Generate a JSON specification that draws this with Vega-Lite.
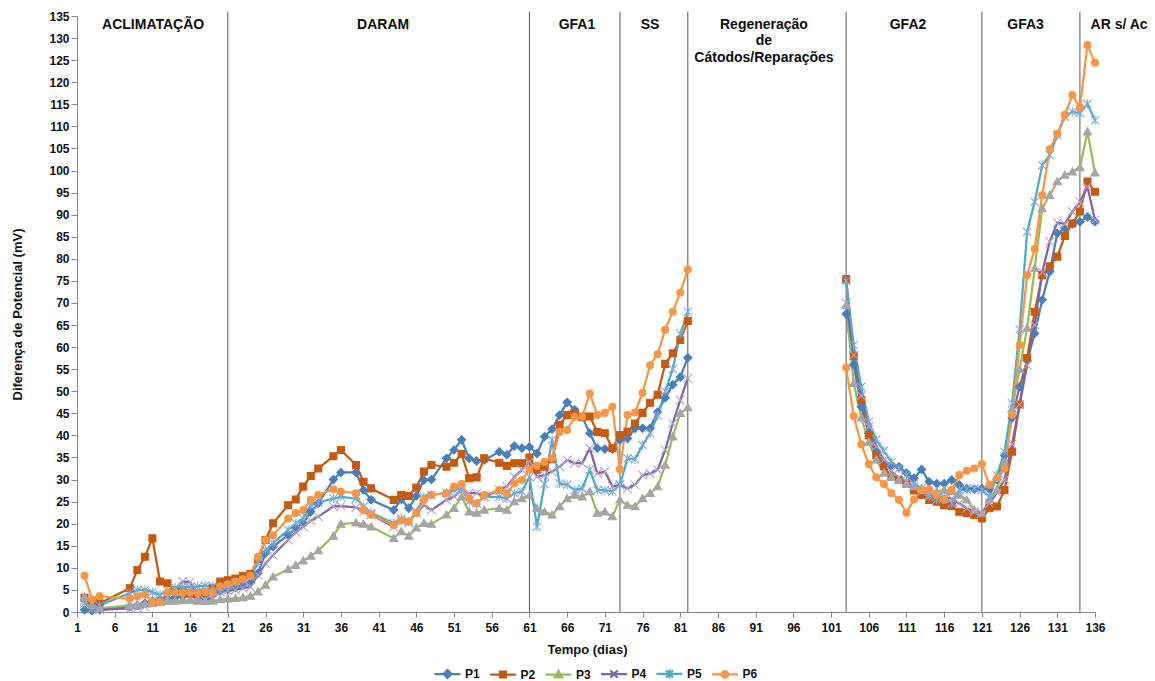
{
  "$schema": "https://vega.github.io/schema/vega-lite/v6.json",
  "width": 1018,
  "height": 596,
  "autosize": {"type": "none"},
  "padding": {"left": 77, "top": 16, "right": 60, "bottom": 69},
  "background": "white",
  "config": {
    "view": {"stroke": null},
    "font": "Liberation Sans",
    "axis": {
      "grid": false,
      "domainColor": "#868686",
      "tickColor": "#868686",
      "labelFont": "Liberation Sans",
      "labelFontWeight": "bold",
      "labelFontSize": 12,
      "labelColor": "#111111",
      "titleFont": "Liberation Sans",
      "titleFontWeight": "bold",
      "titleFontSize": 13,
      "titleColor": "#111111"
    }
  },
  "datasets": {
    "medicoes": [
      {"dia": 2, "bloco": 1, "P1": 0.5, "P2": 3.2, "P3": 3.4, "P4": 2.5, "P5": 2.0, "P6": 8.2},
      {"dia": 3, "bloco": 1, "P1": 0.3, "P2": 1.5, "P3": 1.5, "P4": 0.7, "P5": 0.8, "P6": 2.9},
      {"dia": 4, "bloco": 1, "P1": 0.5, "P2": 2.0, "P3": 0.8, "P4": 0.5, "P5": 1.5, "P6": 3.6},
      {"dia": 8, "bloco": 1, "P1": 1.2, "P2": 5.4, "P3": 1.5, "P4": 0.8, "P5": 4.3, "P6": 3.0},
      {"dia": 9, "bloco": 1, "P1": 1.5, "P2": 9.5, "P3": 1.7, "P4": 0.9, "P5": 5.0, "P6": 3.5},
      {"dia": 10, "bloco": 1, "P1": 2.0, "P2": 12.5, "P3": 1.8, "P4": 1.2, "P5": 5.0, "P6": 3.9},
      {"dia": 11, "bloco": 1, "P1": 2.5, "P2": 16.7, "P3": 2.0, "P4": 2.5, "P5": 4.5, "P6": 2.3},
      {"dia": 12, "bloco": 1, "P1": 2.8, "P2": 6.9, "P3": 2.2, "P4": 2.2, "P5": 3.9, "P6": 2.3},
      {"dia": 13, "bloco": 1, "P1": 3.0, "P2": 6.5, "P3": 2.4, "P4": 3.5, "P5": 4.8, "P6": 4.4},
      {"dia": 14, "bloco": 1, "P1": 3.3, "P2": 5.0, "P3": 2.5, "P4": 5.0, "P5": 5.5, "P6": 4.4},
      {"dia": 15, "bloco": 1, "P1": 3.5, "P2": 4.5, "P3": 2.6, "P4": 6.9, "P5": 5.7, "P6": 4.3},
      {"dia": 16, "bloco": 1, "P1": 3.8, "P2": 4.2, "P3": 2.7, "P4": 6.8, "P5": 5.6, "P6": 4.4},
      {"dia": 17, "bloco": 1, "P1": 3.2, "P2": 4.3, "P3": 2.5, "P4": 3.5, "P5": 5.8, "P6": 4.3},
      {"dia": 18, "bloco": 1, "P1": 3.3, "P2": 4.4, "P3": 2.4, "P4": 2.7, "P5": 6.0, "P6": 4.5},
      {"dia": 19, "bloco": 1, "P1": 4.2, "P2": 5.5, "P3": 2.5, "P4": 3.2, "P5": 5.8, "P6": 4.5},
      {"dia": 20, "bloco": 1, "P1": 4.8, "P2": 6.9, "P3": 2.8, "P4": 4.5, "P5": 5.5, "P6": 5.8},
      {"dia": 21, "bloco": 1, "P1": 5.2, "P2": 7.2, "P3": 3.0, "P4": 4.8, "P5": 6.0, "P6": 6.3},
      {"dia": 22, "bloco": 1, "P1": 5.6, "P2": 7.6, "P3": 3.1, "P4": 5.0, "P5": 6.6, "P6": 6.9},
      {"dia": 23, "bloco": 1, "P1": 6.1, "P2": 8.2, "P3": 3.3, "P4": 5.4, "P5": 7.2, "P6": 7.4},
      {"dia": 24, "bloco": 1, "P1": 6.6, "P2": 8.6, "P3": 3.6, "P4": 5.7, "P5": 8.0, "P6": 8.2},
      {"dia": 25, "bloco": 1, "P1": 8.8, "P2": 12.0, "P3": 4.6, "P4": 8.4, "P5": 11.1, "P6": 12.5},
      {"dia": 26, "bloco": 1, "P1": 13.3, "P2": 16.3, "P3": 6.1, "P4": 11.0, "P5": 14.0, "P6": 16.3},
      {"dia": 27, "bloco": 1, "P1": 14.8, "P2": 20.1, "P3": 8.0, "P4": 12.9, "P5": 15.6, "P6": 17.4},
      {"dia": 29, "bloco": 1, "P1": 17.4, "P2": 24.2, "P3": 9.7, "P4": 16.3, "P5": 18.6, "P6": 21.2},
      {"dia": 30, "bloco": 1, "P1": 19.0, "P2": 25.5, "P3": 10.6, "P4": 18.0, "P5": 20.1, "P6": 22.4},
      {"dia": 31, "bloco": 1, "P1": 20.1, "P2": 28.4, "P3": 11.6, "P4": 19.3, "P5": 21.2, "P6": 23.1},
      {"dia": 32, "bloco": 1, "P1": 22.7, "P2": 30.8, "P3": 12.7, "P4": 20.7, "P5": 24.2, "P6": 25.4},
      {"dia": 33, "bloco": 1, "P1": 24.6, "P2": 32.5, "P3": 13.9, "P4": 21.6, "P5": 24.8, "P6": 26.5},
      {"dia": 35, "bloco": 1, "P1": 30.0, "P2": 35.3, "P3": 17.2, "P4": 23.9, "P5": 25.7, "P6": 27.8},
      {"dia": 36, "bloco": 1, "P1": 31.6, "P2": 36.7, "P3": 19.9, "P4": 24.0, "P5": 26.1, "P6": 27.3},
      {"dia": 38, "bloco": 1, "P1": 31.6, "P2": 33.3, "P3": 20.2, "P4": 23.7, "P5": 25.7, "P6": 26.9},
      {"dia": 39, "bloco": 1, "P1": 27.6, "P2": 29.5, "P3": 19.9, "P4": 22.7, "P5": 23.9, "P6": 23.1},
      {"dia": 40, "bloco": 1, "P1": 25.4, "P2": 28.0, "P3": 19.3, "P4": 22.0, "P5": 22.5, "P6": 22.0},
      {"dia": 43, "bloco": 1, "P1": 23.1, "P2": 25.4, "P3": 16.7, "P4": 19.3, "P5": 20.1, "P6": 19.7},
      {"dia": 44, "bloco": 1, "P1": 25.5, "P2": 26.5, "P3": 18.2, "P4": 20.7, "P5": 21.2, "P6": 20.7},
      {"dia": 45, "bloco": 1, "P1": 23.5, "P2": 26.3, "P3": 17.2, "P4": 20.2, "P5": 20.5, "P6": 20.5},
      {"dia": 46, "bloco": 1, "P1": 26.3, "P2": 28.2, "P3": 19.1, "P4": 22.4, "P5": 22.7, "P6": 22.4},
      {"dia": 47, "bloco": 1, "P1": 29.9, "P2": 31.8, "P3": 20.1, "P4": 24.2, "P5": 26.1, "P6": 25.4},
      {"dia": 48, "bloco": 1, "P1": 30.0, "P2": 33.3, "P3": 19.9, "P4": 23.1, "P5": 26.5, "P6": 26.5},
      {"dia": 50, "bloco": 1, "P1": 34.8, "P2": 32.9, "P3": 22.0, "P4": 25.4, "P5": 27.0, "P6": 26.9},
      {"dia": 51, "bloco": 1, "P1": 36.7, "P2": 33.8, "P3": 23.5, "P4": 26.1, "P5": 27.6, "P6": 28.4},
      {"dia": 52, "bloco": 1, "P1": 39.0, "P2": 35.8, "P3": 26.1, "P4": 27.6, "P5": 28.0, "P6": 29.0},
      {"dia": 53, "bloco": 1, "P1": 34.8, "P2": 30.3, "P3": 22.7, "P4": 26.9, "P5": 25.0, "P6": 25.7},
      {"dia": 54, "bloco": 1, "P1": 34.2, "P2": 30.5, "P3": 22.4, "P4": 26.9, "P5": 24.6, "P6": 24.6},
      {"dia": 55, "bloco": 1, "P1": 34.4, "P2": 34.8, "P3": 23.1, "P4": 26.1, "P5": 26.1, "P6": 26.5},
      {"dia": 57, "bloco": 1, "P1": 36.3, "P2": 33.8, "P3": 23.5, "P4": 27.6, "P5": 26.1, "P6": 27.6},
      {"dia": 58, "bloco": 1, "P1": 35.6, "P2": 33.1, "P3": 23.1, "P4": 28.4, "P5": 25.7, "P6": 26.9},
      {"dia": 59, "bloco": 1, "P1": 37.6, "P2": 33.7, "P3": 25.0, "P4": 30.6, "P5": 26.9, "P6": 29.1},
      {"dia": 60, "bloco": 1, "P1": 37.1, "P2": 33.7, "P3": 25.7, "P4": 32.2, "P5": 27.3, "P6": 29.9},
      {"dia": 61, "bloco": 1, "P1": 37.4, "P2": 35.0, "P3": 26.5, "P4": 34.0, "P5": 30.6, "P6": 32.3},
      {"dia": 62, "bloco": 1, "P1": 35.9, "P2": 32.2, "P3": 23.5, "P4": 30.6, "P5": 19.3, "P6": 33.1},
      {"dia": 63, "bloco": 1, "P1": 39.7, "P2": 32.9, "P3": 22.7, "P4": 31.0, "P5": 29.0, "P6": 34.0},
      {"dia": 64, "bloco": 1, "P1": 41.4, "P2": 34.6, "P3": 22.0, "P4": 31.8, "P5": 39.0, "P6": 34.8},
      {"dia": 65, "bloco": 1, "P1": 44.6, "P2": 42.4, "P3": 23.9, "P4": 32.9, "P5": 29.1, "P6": 40.8},
      {"dia": 66, "bloco": 1, "P1": 47.5, "P2": 44.6, "P3": 25.7, "P4": 34.4, "P5": 28.8, "P6": 41.2},
      {"dia": 67, "bloco": 1, "P1": 45.8, "P2": 45.0, "P3": 26.5, "P4": 33.7, "P5": 27.6, "P6": 44.2},
      {"dia": 68, "bloco": 1, "P1": 44.2, "P2": 44.2, "P3": 26.1, "P4": 33.7, "P5": 28.0, "P6": 44.2},
      {"dia": 69, "bloco": 1, "P1": 40.5, "P2": 44.3, "P3": 27.3, "P4": 37.1, "P5": 32.2, "P6": 49.5},
      {"dia": 70, "bloco": 1, "P1": 37.1, "P2": 40.8, "P3": 22.4, "P4": 31.4, "P5": 27.6, "P6": 44.6},
      {"dia": 71, "bloco": 1, "P1": 36.9, "P2": 40.5, "P3": 22.7, "P4": 31.8, "P5": 27.6, "P6": 45.1},
      {"dia": 72, "bloco": 1, "P1": 36.9, "P2": 37.1, "P3": 21.6, "P4": 28.4, "P5": 27.3, "P6": 46.5},
      {"dia": 73, "bloco": 1, "P1": 39.0, "P2": 40.1, "P3": 25.4, "P4": 28.8, "P5": 28.8, "P6": 32.3},
      {"dia": 74, "bloco": 1, "P1": 39.3, "P2": 40.8, "P3": 24.2, "P4": 28.0, "P5": 34.8, "P6": 44.6},
      {"dia": 75, "bloco": 1, "P1": 41.6, "P2": 42.7, "P3": 23.9, "P4": 28.8, "P5": 34.6, "P6": 45.2},
      {"dia": 76, "bloco": 1, "P1": 41.6, "P2": 45.1, "P3": 25.7, "P4": 31.0, "P5": 37.8, "P6": 49.6},
      {"dia": 77, "bloco": 1, "P1": 41.6, "P2": 47.4, "P3": 26.9, "P4": 31.4, "P5": 40.5, "P6": 55.9},
      {"dia": 78, "bloco": 1, "P1": 45.3, "P2": 49.2, "P3": 28.4, "P4": 32.2, "P5": 44.5, "P6": 58.4},
      {"dia": 79, "bloco": 1, "P1": 48.5, "P2": 56.2, "P3": 33.3, "P4": 36.7, "P5": 50.0, "P6": 63.9},
      {"dia": 80, "bloco": 1, "P1": 51.5, "P2": 58.6, "P3": 39.7, "P4": 42.7, "P5": 55.0, "P6": 68.0},
      {"dia": 81, "bloco": 1, "P1": 53.2, "P2": 61.6, "P3": 45.0, "P4": 48.0, "P5": 63.0, "P6": 72.3},
      {"dia": 82, "bloco": 1, "P1": 57.6, "P2": 65.9, "P3": 46.3, "P4": 52.9, "P5": 68.0, "P6": 77.6},
      {"dia": 103, "bloco": 2, "P1": 67.5, "P2": 75.4, "P3": 69.5, "P4": 70.0, "P5": 75.0, "P6": 55.4},
      {"dia": 104, "bloco": 2, "P1": 56.0, "P2": 58.0, "P3": 51.8, "P4": 58.2, "P5": 60.5, "P6": 44.4},
      {"dia": 105, "bloco": 2, "P1": 46.5, "P2": 48.0, "P3": 44.0, "P4": 49.0, "P5": 51.0, "P6": 38.0},
      {"dia": 106, "bloco": 2, "P1": 40.5, "P2": 40.0, "P3": 38.5, "P4": 42.0, "P5": 43.1, "P6": 33.5},
      {"dia": 107, "bloco": 2, "P1": 36.5, "P2": 35.5, "P3": 34.5, "P4": 37.5, "P5": 39.0, "P6": 30.5},
      {"dia": 108, "bloco": 2, "P1": 33.8, "P2": 33.0, "P3": 31.5, "P4": 34.5, "P5": 36.5, "P6": 29.0},
      {"dia": 109, "bloco": 2, "P1": 33.3, "P2": 30.6, "P3": 30.5, "P4": 31.8, "P5": 34.0, "P6": 26.9},
      {"dia": 110, "bloco": 2, "P1": 32.9, "P2": 29.9, "P3": 29.8, "P4": 30.5, "P5": 32.5, "P6": 25.4},
      {"dia": 111, "bloco": 2, "P1": 31.5, "P2": 29.1, "P3": 29.0, "P4": 29.5, "P5": 31.0, "P6": 22.5},
      {"dia": 112, "bloco": 2, "P1": 30.3, "P2": 27.5, "P3": 28.4, "P4": 28.4, "P5": 29.1, "P6": 25.5},
      {"dia": 113, "bloco": 2, "P1": 32.3, "P2": 26.5, "P3": 28.0, "P4": 27.3, "P5": 28.0, "P6": 27.6},
      {"dia": 114, "bloco": 2, "P1": 29.5, "P2": 25.4, "P3": 27.5, "P4": 26.5, "P5": 26.1, "P6": 27.8},
      {"dia": 115, "bloco": 2, "P1": 29.1, "P2": 25.0, "P3": 27.3, "P4": 26.1, "P5": 25.4, "P6": 26.5},
      {"dia": 116, "bloco": 2, "P1": 29.1, "P2": 24.2, "P3": 27.6, "P4": 25.9, "P5": 26.1, "P6": 25.4},
      {"dia": 117, "bloco": 2, "P1": 29.9, "P2": 24.0, "P3": 27.3, "P4": 25.7, "P5": 24.6, "P6": 27.6},
      {"dia": 118, "bloco": 2, "P1": 28.8, "P2": 22.7, "P3": 26.5, "P4": 24.6, "P5": 27.6, "P6": 31.0},
      {"dia": 119, "bloco": 2, "P1": 28.0, "P2": 22.4, "P3": 25.4, "P4": 23.5, "P5": 27.8, "P6": 32.0},
      {"dia": 120, "bloco": 2, "P1": 27.8, "P2": 22.0, "P3": 23.1, "P4": 22.7, "P5": 28.0, "P6": 32.5},
      {"dia": 121, "bloco": 2, "P1": 28.0, "P2": 21.2, "P3": 22.3, "P4": 22.4, "P5": 27.6, "P6": 33.5},
      {"dia": 122, "bloco": 2, "P1": 27.8, "P2": 23.5, "P3": 25.4, "P4": 24.6, "P5": 26.1, "P6": 28.8},
      {"dia": 123, "bloco": 2, "P1": 30.0, "P2": 23.9, "P3": 27.6, "P4": 27.0, "P5": 31.0, "P6": 30.3},
      {"dia": 124, "bloco": 2, "P1": 35.5, "P2": 27.6, "P3": 34.0, "P4": 30.0, "P5": 36.3, "P6": 32.5},
      {"dia": 125, "bloco": 2, "P1": 44.0, "P2": 36.3, "P3": 46.0, "P4": 38.0, "P5": 47.3, "P6": 44.6},
      {"dia": 126, "bloco": 2, "P1": 51.0, "P2": 47.0, "P3": 55.0, "P4": 47.0, "P5": 64.0, "P6": 60.5},
      {"dia": 127, "bloco": 2, "P1": 57.0, "P2": 57.5, "P3": 64.3, "P4": 55.9, "P5": 86.1, "P6": 76.3},
      {"dia": 128, "bloco": 2, "P1": 63.1, "P2": 68.0, "P3": 77.8, "P4": 65.0, "P5": 92.9, "P6": 82.2},
      {"dia": 129, "bloco": 2, "P1": 70.7, "P2": 76.3, "P3": 91.4, "P4": 77.0, "P5": 101.2, "P6": 94.4},
      {"dia": 130, "bloco": 2, "P1": 77.1, "P2": 78.3, "P3": 94.4, "P4": 83.9, "P5": 103.5, "P6": 104.8},
      {"dia": 131, "bloco": 2, "P1": 85.8, "P2": 80.5, "P3": 97.5, "P4": 88.2, "P5": 108.0, "P6": 108.3},
      {"dia": 132, "bloco": 2, "P1": 86.9, "P2": 85.2, "P3": 99.0, "P4": 87.9, "P5": 112.2, "P6": 112.6},
      {"dia": 133, "bloco": 2, "P1": 87.9, "P2": 88.0, "P3": 99.7, "P4": 90.7, "P5": 113.3, "P6": 117.1},
      {"dia": 134, "bloco": 2, "P1": 88.4, "P2": 90.7, "P3": 100.7, "P4": 92.9, "P5": 113.0, "P6": 114.3},
      {"dia": 135, "bloco": 2, "P1": 89.5, "P2": 97.5, "P3": 108.8, "P4": 96.3, "P5": 115.1, "P6": 128.4},
      {"dia": 136, "bloco": 2, "P1": 88.4, "P2": 95.2, "P3": 99.5, "P4": 88.8, "P5": 111.4, "P6": 124.4}
    ],
    "limites": [
      {"dia": 21}, {"dia": 61}, {"dia": 73}, {"dia": 82}, {"dia": 103}, {"dia": 121}, {"dia": 134}
    ],
    "fases": [
      {"fase": "ACLIMATAÇÃO", "meio": 11.1},
      {"fase": "DARAM", "meio": 41.6},
      {"fase": "GFA1", "meio": 67.3},
      {"fase": "SS", "meio": 77},
      {"fase": "Regeneração\nde\nCátodos/Reparações", "meio": 92.1},
      {"fase": "GFA2", "meio": 111.2},
      {"fase": "GFA3", "meio": 126.8},
      {"fase": "AR s/ Ac", "meio": 139.2}
    ]
  },
  "layer": [
    {
      "data": {"name": "limites"},
      "mark": {"type": "rule", "color": "#595959", "strokeWidth": 1},
      "encoding": {
        "x": {"field": "dia", "type": "quantitative", "scale": {"domain": [1, 136], "nice": false}},
        "y": {"datum": 0, "type": "quantitative", "scale": {"domain": [0, 135], "nice": false}},
        "y2": {"datum": 136}
      }
    },
    {
      "data": {"name": "medicoes"},
      "transform": [{"fold": ["P1", "P2", "P3", "P4", "P5", "P6"], "as": ["serie", "valor"]}],
      "mark": {"type": "line", "strokeWidth": 2.25, "strokeJoin": "round"},
      "encoding": {
        "x": {
          "field": "dia", "type": "quantitative",
          "scale": {"domain": [1, 136], "nice": false, "zero": false},
          "axis": {
            "title": "Tempo (dias)",
            "values": [1, 6, 11, 16, 21, 26, 31, 36, 41, 46, 51, 56, 61, 66, 71, 76, 81, 86, 91, 96, 101, 106, 111, 116, 121, 126, 131, 136],
            "tickCount": 40,
            "labelOverlap": false, "labelFlush": false, "labelBound": false,
            "tickSize": 5, "labelPadding": 5, "titlePadding": 10, "titleX": 510
          }
        },
        "y": {
          "field": "valor", "type": "quantitative",
          "scale": {"domain": [0, 135], "nice": false},
          "axis": {
            "title": "Diferença de Potencial (mV)",
            "values": [0, 5, 10, 15, 20, 25, 30, 35, 40, 45, 50, 55, 60, 65, 70, 75, 80, 85, 90, 95, 100, 105, 110, 115, 120, 125, 130, 135],
            "tickCount": 40,
            "labelOverlap": false, "labelFlush": false, "labelBound": false,
            "tickSize": 6, "labelPadding": 2,
            "titleX": -60, "titleY": 298, "titleAngle": -90, "titleAlign": "center", "titleBaseline": "middle"
          }
        },
        "color": {
          "field": "serie", "type": "nominal",
          "scale": {"domain": ["P1", "P2", "P3", "P4", "P5", "P6"], "range": ["#4a7ebb", "#c55a11", "#9bbb59", "#8064a2", "#4bacc6", "#f79646"]},
          "legend": {
            "title": null,
            "orient": "none",
            "direction": "horizontal",
            "legendX": 356,
            "legendY": 643,
            "symbolSize": 676,
            "symbolStrokeWidth": 2.25,
            "columnPadding": 5.5,
            "labelOffset": 3,
            "labelFont": "Liberation Sans",
            "labelFontWeight": "bold",
            "labelFontSize": 12,
            "labelColor": "#111111",
            "encode": {
              "symbols": {
                "update": {
                  "shape": {"signal": "datum.value === 'P1' ? 'M-1,0H1M0,-0.3L0.3,0L0,0.3L-0.3,0Z' : datum.value === 'P2' ? 'M-1,0H1M-0.23,-0.23H0.23V0.23H-0.23Z' : datum.value === 'P3' ? 'M-1,0H1M0,-0.28L0.28,0.22H-0.28Z' : datum.value === 'P4' ? 'M-1,0H1M-0.28,-0.28L0.28,0.28M-0.28,0.28L0.28,-0.28' : datum.value === 'P5' ? 'M-1,0H1M-0.28,-0.28L0.28,0.28M-0.28,0.28L0.28,-0.28M0,-0.33V0.33' : 'M-1,0H1M0.25,0A0.25,0.25 0 1 1 -0.25,0A0.25,0.25 0 1 1 0.25,0Z'"},
                  "fill": {"signal": "datum.value === 'P1' ? '#4a7ebb' : datum.value === 'P2' ? '#c55a11' : datum.value === 'P3' ? '#a5a5a5' : datum.value === 'P4' ? '#b3a2c7' : datum.value === 'P5' ? '#7fa8d8' : '#f79646'"},
                  "size": {"value": 676},
                  "opacity": {"value": 1}
                }
              }
            }
          }
        },
        "detail": {"field": "bloco", "type": "nominal"}
      }
    },
    {
      "data": {"name": "medicoes"},
      "transform": [{"fold": ["P1", "P2", "P3", "P4", "P5", "P6"], "as": ["serie", "valor"]}],
      "mark": {"type": "point", "filled": true, "opacity": 1, "strokeWidth": 1.1, "size": 40},
      "encoding": {
        "x": {"field": "dia", "type": "quantitative"},
        "y": {"field": "valor", "type": "quantitative"},
        "fill": {
          "field": "serie", "type": "nominal",
          "scale": {"range": ["#4a7ebb", "#c55a11", "#a5a5a5", "#b3a2c7", "#7fa8d8", "#f79646"]},
          "legend": null
        },
        "stroke": {
          "field": "serie", "type": "nominal",
          "scale": {"range": ["#4a7ebb", "#c55a11", "#a5a5a5", "#b3a2c7", "#7fa8d8", "#f79646"]},
          "legend": null
        },
        "shape": {
          "field": "serie", "type": "nominal",
          "scale": {"range": ["M0,-1.3L1.3,0L0,1.3L-1.3,0Z", "M-1.1,-1.1H1.1V1.1H-1.1Z", "M0,-1.25L1.3,1H-1.3Z", "M-1.4,-1.4L1.4,1.4M-1.4,1.4L1.4,-1.4", "M-1.3,-1.3L1.3,1.3M-1.3,1.3L1.3,-1.3M0,-1.45L0,1.45", "M1.1,0A1.1,1.1 0 1 1 -1.1,0A1.1,1.1 0 1 1 1.1,0Z"]},
          "legend": null
        }
      }
    },
    {
      "data": {"name": "fases"},
      "mark": {"type": "text", "font": "Liberation Sans", "fontWeight": "bold", "fontSize": 14, "color": "#0d0d0d", "align": "center", "baseline": "top", "lineBreak": "\n", "lineHeight": 16.5},
      "encoding": {
        "x": {"field": "meio", "type": "quantitative"},
        "y": {"datum": 134.6, "type": "quantitative"},
        "text": {"field": "fase"}
      }
    }
  ]
}
